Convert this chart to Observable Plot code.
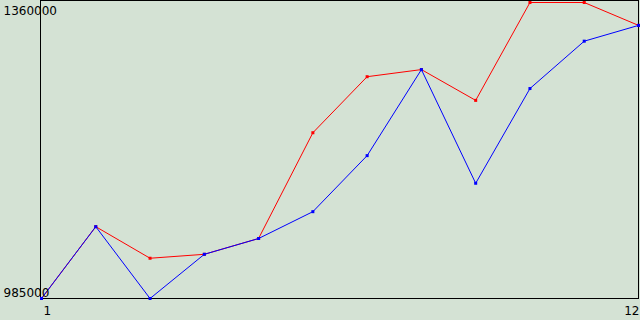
<!DOCTYPE html>
<html>
<head>
<meta charset="utf-8">
<script src="https://cdn.jsdelivr.net/npm/d3@7"></script>
<script src="https://cdn.jsdelivr.net/npm/@observablehq/plot@0.6"></script>
<style>
  html, body { margin: 0; padding: 0; background: #d4e2d4; }
  #chart svg { display: block; }
</style>
</head>
<body>
<div id="chart"></div>
<script>
const periods = [1, 2, 3, 4, 5, 6, 7, 8, 9, 10, 11, 12];
const blueSeries = [985000, 1076000, 985000, 1041000, 1061000, 1095000, 1166000, 1275000, 1131000, 1251000, 1311000, 1331000];
const redSeries = [985000, 1076000, 1036000, 1041000, 1061000, 1195000, 1266000, 1275000, 1236000, 1360000, 1360000, 1331000];
const yTicks = [985000, 1360000];
const xTicks = [1, 12];

const red = periods.map((p, i) => ({x: p, y: redSeries[i]}));
const blue = periods.map((p, i) => ({x: p, y: blueSeries[i]}));

const chart = Plot.plot({
  width: 640,
  height: 320,
  marginLeft: 41,
  marginRight: 2,
  marginTop: 2,
  marginBottom: 22,
  style: {background: "#d4e2d4", fontFamily: "DejaVu Sans", fontSize: "12px", color: "black"},
  x: {domain: [1, 12], axis: null},
  y: {domain: [985000, 1360000], axis: null},
  marks: [
    Plot.frame({stroke: "black", insetLeft: -1, insetTop: -2, insetBottom: 0}),
    Plot.line(red, {x: "x", y: "y", stroke: "#ff0000", strokeWidth: 1}),
    Plot.dot(red, {x: "x", y: "y", symbol: "square", r: 1.7, fill: "#ff0000"}),
    Plot.line(blue, {x: "x", y: "y", stroke: "#0000ff", strokeWidth: 1}),
    Plot.dot(blue, {x: "x", y: "y", symbol: "square", r: 1.7, fill: "#0000ff"}),
    Plot.text([yTicks[1]], {y: d => d, text: d => String(d), frameAnchor: "left", dx: -38, textAnchor: "start", lineAnchor: "top", dy: 3.5, fill: "black"}),
    Plot.text([yTicks[0]], {y: d => d, text: d => String(d), frameAnchor: "left", dx: -38, textAnchor: "start", lineAnchor: "bottom", dy: -2, fill: "black"}),
    Plot.text([xTicks[0]], {x: d => d, text: d => String(d), frameAnchor: "bottom", textAnchor: "start", lineAnchor: "bottom", dx: 2, dy: 16.5, fill: "black"}),
    Plot.text([xTicks[1]], {x: d => d, text: d => String(d), frameAnchor: "bottom", textAnchor: "end", lineAnchor: "bottom", dx: 1, dy: 16.5, fill: "black"})
  ]
});
document.getElementById("chart").appendChild(chart);
</script>
</body>
</html>
